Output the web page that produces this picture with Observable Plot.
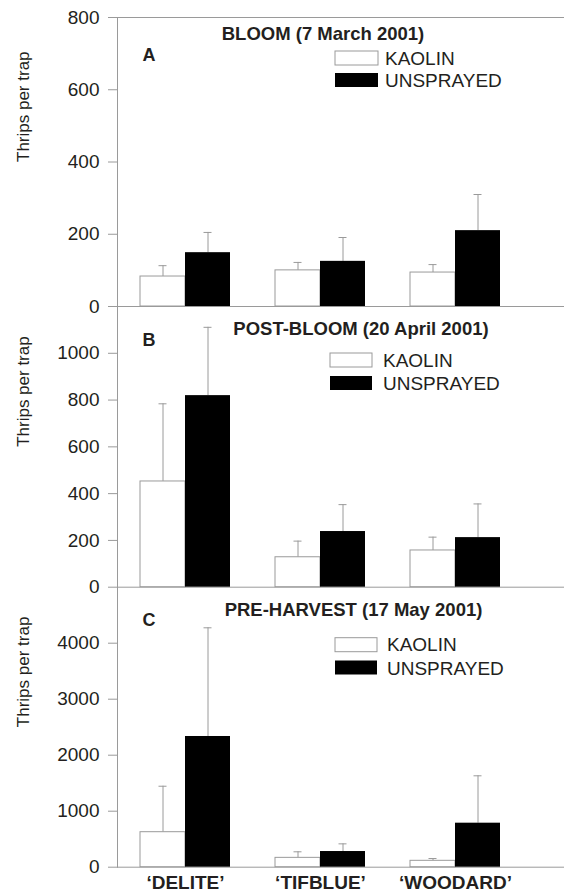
<!DOCTYPE html>
<html><head><meta charset="utf-8">
<script src="https://cdn.jsdelivr.net/npm/d3@7"></script>
<script src="https://cdn.jsdelivr.net/npm/@observablehq/plot@0.6"></script>
<style>
html,body{margin:0;padding:0;background:#fff;}
#chart{position:relative;width:564px;height:894px;overflow:hidden;}
#chart svg{position:absolute;left:0;top:0;}
</style></head><body><div id="chart"></div>
<script>
// ---- data ----
const varieties = ["DELITE", "TIFBLUE", "WOODARD"];
const treatments = ["KAOLIN", "UNSPRAYED"];
const yLabel = "Thrips per trap";

const bloomKaolin = [83, 100, 94];
const bloomKaolinSE = [30, 22, 22];
const bloomUnsprayed = [149, 125, 210];
const bloomUnsprayedSE = [56, 66, 100];
const bloomTicks = [0, 200, 400, 600, 800];

const postKaolin = [452, 128, 157];
const postKaolinSE = [332, 69, 57];
const postUnsprayed = [819, 238, 212];
const postUnsprayedSE = [292, 115, 144];
const postTicks = [0, 200, 400, 600, 800, 1000];

const preKaolin = [625, 167, 114];
const preKaolinSE = [821, 108, 41];
const preUnsprayed = [2334, 280, 786];
const preUnsprayedSE = [1941, 137, 846];
const preTicks = [0, 1000, 2000, 3000, 4000];

// ---- layout ----
const W = 564, H = 894, ML = 117;
const GRAY = "#9a9a9a", TEXT = "#231f20";
const FONT = "'Liberation Sans', Arial, Helvetica, sans-serif";

function rows(means, ses) {
  return varieties.map((v, i) => ({variety: v, mean: means[i], upper: means[i] + ses[i]}));
}

function panel(cfg) {
  const K = rows(cfg.kaolin, cfg.kaolinSE);
  const U = rows(cfg.unsprayed, cfg.unsprayedSE);
  const marks = [
    Plot.frame({anchor: "left", stroke: GRAY}),
    Plot.ruleY([0], {stroke: GRAY}),
    cfg.topRule ? Plot.ruleY([cfg.domain[1]], {stroke: GRAY}) : null,
    Plot.ruleX(K, {x: "variety", y1: "mean", y2: "upper", dx: -22.5, stroke: GRAY}),
    Plot.tickY(K, {x: "variety", y: "upper", insetLeft: 18.5, insetRight: 63.5, stroke: GRAY}),
    Plot.ruleX(U, {x: "variety", y1: "mean", y2: "upper", dx: 22.5, stroke: GRAY}),
    Plot.tickY(U, {x: "variety", y: "upper", insetLeft: 63.5, insetRight: 18.5, stroke: GRAY}),
    Plot.barY(K, {x: "variety", y: "mean", fill: "white", stroke: GRAY, insetRight: 45}),
    Plot.barY(U, {x: "variety", y: "mean", fill: "black", insetLeft: 45}),
    Plot.axisY({ticks: cfg.ticks, tickFormat: d => String(d), tickSize: 9, tickPadding: 9, stroke: GRAY, fill: TEXT, label: null, fontSize: 19}),
    Plot.text([yLabel], {frameAnchor: "left", rotate: -90, dx: -94, fontSize: 17, fill: TEXT}),
    Plot.text([cfg.title], {frameAnchor: "top", dx: cfg.titleDx, dy: cfg.titleDy, lineAnchor: "bottom", fontWeight: "bold", fontSize: 18.5, fill: TEXT}),
    Plot.text([cfg.letter], {frameAnchor: "top-left", textAnchor: "start", dx: 25, dy: cfg.letterDy, lineAnchor: "bottom", fontWeight: "bold", fontSize: 18, fill: TEXT}),
    cfg.xaxis ? Plot.axisX({tickSize: 0, tickPadding: 8, tickFormat: d => `\u2018${d}\u2019`, fontWeight: "bold", fontSize: 19, fill: TEXT, label: null}) : null
  ];
  const xOpts = {domain: varieties, range: [117, 522], paddingInner: 1 / 3, paddingOuter: 1 / 6};
  if (!cfg.xaxis) xOpts.axis = null;
  const svg = Plot.plot({
    width: W, height: H,
    marginLeft: ML, marginRight: 0, marginTop: cfg.top, marginBottom: H - cfg.bottom,
    x: xOpts,
    y: {domain: cfg.domain},
    style: {background: "transparent", fontFamily: FONT, fontSize: "18px", overflow: "visible", color: TEXT},
    marks
  });
  // legend
  const g = d3.select(svg).append("g").attr("font-family", FONT).attr("font-size", 19)
    .attr("fill", TEXT).attr("text-anchor", "start");
  treatments.forEach((t, i) => {
    g.append("rect").attr("x", cfg.lg.x).attr("y", cfg.lg.y[i]).attr("width", cfg.lg.w).attr("height", 14)
      .attr("fill", i ? "black" : "white").attr("stroke", i ? "none" : GRAY);
    g.append("text").attr("x", cfg.lg.tx).attr("y", cfg.lg.base[i]).attr("text-anchor", "start").text(t);
  });
  return svg;
}

const chart = document.getElementById("chart");
chart.appendChild(panel({
  kaolin: bloomKaolin, kaolinSE: bloomKaolinSE, unsprayed: bloomUnsprayed, unsprayedSE: bloomUnsprayedSE,
  ticks: bloomTicks, domain: [0, 800], top: 17, bottom: 306, topRule: true,
  title: "BLOOM (7 March 2001)", titleDx: -18, titleDy: 22, letter: "A", letterDy: 43,
  lg: {x: 335, y: [51, 73], w: 43, tx: 385, base: [64.5, 87.3]}
}));
chart.appendChild(panel({
  kaolin: postKaolin, kaolinSE: postKaolinSE, unsprayed: postUnsprayed, unsprayedSE: postUnsprayedSE,
  ticks: postTicks, domain: [0, 1200], top: 306, bottom: 586.7,
  title: "POST-BLOOM (20 April 2001)", titleDx: 20, titleDy: 28, letter: "B", letterDy: 39,
  lg: {x: 330, y: [353, 376], w: 42, tx: 383, base: [367, 390]}
}));
chart.appendChild(panel({
  kaolin: preKaolin, kaolinSE: preKaolinSE, unsprayed: preUnsprayed, unsprayedSE: preUnsprayedSE,
  ticks: preTicks, domain: [0, 5000], top: 586.7, bottom: 866.7, xaxis: true,
  title: "PRE-HARVEST (17 May 2001)", titleDx: 12.5, titleDy: 29, letter: "C", letterDy: 38.3,
  lg: {x: 335, y: [637.7, 660.5], w: 42, tx: 387, base: [651.3, 675]}
}));
</script></body></html>
